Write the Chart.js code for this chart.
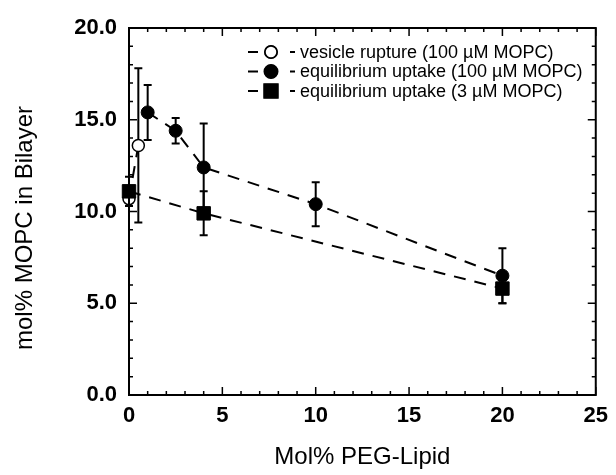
<!DOCTYPE html>
<html>
<head>
<meta charset="utf-8">
<script src="https://cdn.jsdelivr.net/npm/chart.js@4"></script>
<style>
  html, body { margin: 0; padding: 0; background: #fff; }
  #wrap { width: 616px; height: 475px; }
</style>
</head>
<body>
<div id="wrap"><canvas id="chart" width="616" height="475"></canvas></div>
<script>
// --- data ---
const ruptureX = [0, 0.5];
const ruptureY = [10.7, 13.6];
const ruptureErr = [0, 4.2];

const uptake100X = [1, 2.5, 4, 10, 20];
const uptake100Y = [15.4, 14.4, 12.4, 10.4, 6.5];
const uptake100Err = [1.5, 0.7, 2.4, 1.2, 1.5];

const uptake3X = [0, 4, 20];
const uptake3Y = [11.1, 9.9, 5.8];
const uptake3Err = [0.8, 1.2, 0.8];

const legendLabels = [
  'vesicle rupture (100 \u00b5M MOPC)',
  'equilibrium uptake (100 \u00b5M MOPC)',
  'equilibrium uptake (3 \u00b5M MOPC)'
];
const xTitle = 'Mol% PEG-Lipid';
const yTitle = 'mol% MOPC in Bilayer';

const toPoints = (xs, ys) => xs.map((x, i) => ({ x, y: ys[i] }));

// frame with inward ticks on all four sides
const framePlugin = {
  id: 'frame',
  afterDraw(chart) {
    const { ctx, chartArea: a, scales } = chart;
    ctx.save();
    ctx.strokeStyle = '#000';
    ctx.lineWidth = 2;
    ctx.strokeRect(a.left, a.top, a.right - a.left, a.bottom - a.top);
    ctx.lineWidth = 1.5;
    const xs = scales.x, ys = scales.y;
    for (let v = xs.min; v <= xs.max; v += 1) {
      const px = xs.getPixelForValue(v);
      const len = v % 5 === 0 ? 8 : 4;
      ctx.beginPath();
      ctx.moveTo(px, a.bottom); ctx.lineTo(px, a.bottom - len);
      ctx.moveTo(px, a.top); ctx.lineTo(px, a.top + len);
      ctx.stroke();
    }
    for (let v = ys.min; v <= ys.max; v += 1) {
      const py = ys.getPixelForValue(v);
      const len = v % 5 === 0 ? 8 : 4;
      ctx.beginPath();
      ctx.moveTo(a.left, py); ctx.lineTo(a.left + len, py);
      ctx.moveTo(a.right, py); ctx.lineTo(a.right - len, py);
      ctx.stroke();
    }
    ctx.restore();
  }
};

// vertical error bars
const errorPlugin = {
  id: 'errbars',
  beforeDatasetsDraw(chart) {
    const { ctx, scales } = chart;
    ctx.save();
    ctx.strokeStyle = '#000';
    ctx.lineWidth = 2;
    chart.data.datasets.forEach(ds => {
      ds.data.forEach((p, i) => {
        const e = ds.errors[i];
        if (!e) return;
        const px = scales.x.getPixelForValue(p.x);
        const top = scales.y.getPixelForValue(p.y + e);
        const bot = scales.y.getPixelForValue(p.y - e);
        ctx.beginPath();
        ctx.moveTo(px, top); ctx.lineTo(px, bot);
        ctx.moveTo(px - 4, top); ctx.lineTo(px + 4, top);
        ctx.moveTo(px - 4, bot); ctx.lineTo(px + 4, bot);
        ctx.stroke();
      });
    });
    ctx.restore();
  }
};

// legend drawn like the original: dash, marker, dash, label
const legendPlugin = {
  id: 'figLegend',
  afterDraw(chart) {
    const { ctx } = chart;
    ctx.save();
    ctx.font = '18px "Liberation Sans", Arial, sans-serif';
    ctx.textBaseline = 'middle';
    chart.data.datasets.forEach((ds, i) => {
      const y = 52 + i * 19.5;
      ctx.strokeStyle = '#000';
      ctx.lineWidth = 2;
      ctx.beginPath();
      ctx.moveTo(248, y); ctx.lineTo(258, y);
      ctx.moveTo(290, y); ctx.lineTo(295, y);
      ctx.stroke();
      Chart.helpers.drawPoint(ctx, {
        pointStyle: ds.pointStyle,
        radius: ds.pointRadius,
        borderWidth: ds.pointBorderWidth
      }, 271, y);
      ctx.fillStyle = ds.pointBackgroundColor;
      ctx.fill();
      ctx.lineWidth = ds.pointBorderWidth;
      ctx.stroke();
      ctx.fillStyle = '#000';
      ctx.fillText(ds.label, 300, y + 1);
    });
    ctx.restore();
  }
};

// y title, sits a little below the plot centre in the original
const yTitlePlugin = {
  id: 'yTitle',
  afterDraw(chart) {
    const { ctx } = chart;
    ctx.save();
    ctx.translate(25, 228);
    ctx.rotate(-Math.PI / 2);
    ctx.font = '24px "Liberation Sans", Arial, sans-serif';
    ctx.fillStyle = '#000';
    ctx.textAlign = 'center';
    ctx.textBaseline = 'middle';
    ctx.fillText(yTitle, 0, 0);
    ctx.restore();
  }
};

const dashed = [12, 9];

new Chart(document.getElementById('chart').getContext('2d'), {
  type: 'scatter',
  data: {
    datasets: [
      {
        label: legendLabels[0],
        data: toPoints(ruptureX, ruptureY),
        errors: ruptureErr,
        showLine: true,
        borderColor: '#000',
        borderWidth: 2,
        borderDash: dashed,
        pointStyle: 'circle',
        pointRadius: 6,
        pointBorderWidth: 1.5,
        pointBorderColor: '#000',
        pointBackgroundColor: '#fff',
        clip: false,
        order: 3
      },
      {
        label: legendLabels[1],
        data: toPoints(uptake100X, uptake100Y),
        errors: uptake100Err,
        showLine: true,
        borderColor: '#000',
        borderWidth: 2,
        borderDash: dashed,
        pointStyle: 'circle',
        pointRadius: 6.5,
        pointBorderWidth: 1,
        pointBorderColor: '#000',
        pointBackgroundColor: '#000',
        clip: false,
        order: 2
      },
      {
        label: legendLabels[2],
        data: toPoints(uptake3X, uptake3Y),
        errors: uptake3Err,
        showLine: true,
        borderColor: '#000',
        borderWidth: 2,
        borderDash: dashed,
        pointStyle: 'rect',
        pointRadius: 9.5,
        pointBorderWidth: 1,
        pointBorderColor: '#000',
        pointBackgroundColor: '#000',
        clip: false,
        order: 1
      }
    ]
  },
  options: {
    responsive: false,
    animation: false,
    layout: { padding: { top: 28, right: 17, bottom: 0, left: 0 } },
    plugins: {
      legend: { display: false },
      tooltip: { enabled: false }
    },
    scales: {
      x: {
        type: 'linear',
        min: 0,
        max: 25,
        grid: { display: false, drawTicks: false },
        border: { display: false },
        ticks: {
          stepSize: 5,
          padding: 8,
          color: '#000',
          font: { family: '"Liberation Sans", Arial, sans-serif', size: 22, weight: 'bold' }
        },
        title: {
          display: true,
          text: xTitle,
          color: '#000',
          padding: { top: 0, bottom: 3 },
          font: { family: '"Liberation Sans", Arial, sans-serif', size: 24 }
        },
        afterFit(scale) { scale.height = 80; }
      },
      y: {
        type: 'linear',
        min: 0,
        max: 20,
        grid: { display: false, drawTicks: false },
        border: { display: false },
        ticks: {
          stepSize: 5,
          padding: 12,
          color: '#000',
          callback: v => v.toFixed(1),
          font: { family: '"Liberation Sans", Arial, sans-serif', size: 22, weight: 'bold' }
        },
        afterFit(scale) { scale.width = 129; }
      }
    }
  },
  plugins: [errorPlugin, framePlugin, legendPlugin, yTitlePlugin]
});
</script>
</body>
</html>
